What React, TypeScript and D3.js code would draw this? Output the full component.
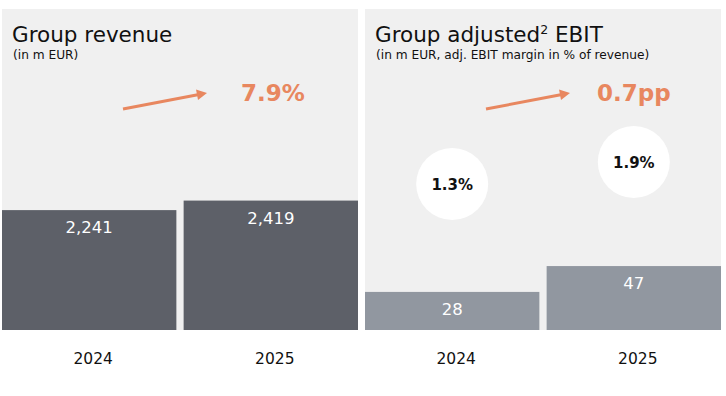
import React, { useRef, useEffect } from "react";
import * as d3 from "d3";

const years = ["2024", "2025"];
const revenue = [2241, 2419];
const ebit = [28, 47];
const ebitMargin = [1.3, 1.9];
const revenueGrowth = "7.9%";
const marginChange = "0.7pp";

const FONT = "'DejaVu Sans', 'Liberation Sans', Arial, sans-serif";
const ORANGE = "#E8875F";

const App = () => {
  const ref = useRef<SVGSVGElement | null>(null);

  useEffect(() => {
    if (!ref.current) return;
    const svg = d3.select(ref.current);
    svg.selectAll("*").remove();

    const top = 9;
    const bottom = 330;

    const panels = [
      {
        x0: 2,
        x1: 358,
        title: "Group revenue",
        sup: "",
        titleRest: "",
        sub: "(in m EUR)",
        values: revenue,
        max: 6000,
        fill: "#5D6068",
        change: revenueGrowth,
        margins: null as number[] | null,
      },
      {
        x0: 365,
        x1: 721,
        title: "Group adjusted",
        sup: "2",
        titleRest: " EBIT",
        sub: "(in m EUR, adj. EBIT margin in % of revenue)",
        values: ebit,
        max: 236,
        fill: "#9197A0",
        change: marginChange,
        margins: ebitMargin,
      },
    ];

    // vertical position of the margin circles
    const my = d3.scaleLinear().domain([1.3, 1.9]).range([184, 162]);

    panels.forEach((p) => {
      const g = svg.append("g");

      g.append("rect")
        .attr("x", p.x0)
        .attr("y", top)
        .attr("width", p.x1 - p.x0)
        .attr("height", bottom - top)
        .attr("fill", "#F0F0F0");

      const x = d3.scaleBand().domain(years).range([p.x0, p.x1]).paddingInner(0.04);
      const y = d3.scaleLinear().domain([0, p.max]).range([bottom, top]);

      // title
      const t = g
        .append("text")
        .attr("x", p.x0 + 10)
        .attr("y", 42)
        .attr("font-family", FONT)
        .attr("font-size", 21.5)
        .attr("fill", "#111");
      t.append("tspan").text(p.title);
      if (p.sup) {
        t.append("tspan").attr("dy", -8).attr("font-size", 12.5).text(p.sup);
        t.append("tspan").attr("dy", 8).text(p.titleRest);
      }
      g.append("text")
        .attr("x", p.x0 + 11)
        .attr("y", 59)
        .attr("font-family", FONT)
        .attr("font-size", 12.2)
        .attr("fill", "#111")
        .text(p.sub);

      // arrow
      const ax0 = p.x0 + 121;
      const ax1 = p.x0 + 205;
      g.append("line")
        .attr("x1", ax0)
        .attr("y1", 109)
        .attr("x2", ax1 - 8)
        .attr("y2", 94.5)
        .attr("stroke", ORANGE)
        .attr("stroke-width", 3);
      g.append("path")
        .attr("d", `M${ax1},93 L${ax1 - 11},89.5 L${ax1 - 9},100 Z`)
        .attr("fill", ORANGE);

      g.append("text")
        .attr("x", p.x0 + (p.margins ? 232 : 239))
        .attr("y", 101)
        .attr("font-family", FONT)
        .attr("font-size", 23)
        .attr("font-weight", "bold")
        .attr("fill", ORANGE)
        .text(p.change);

      // bars
      g.selectAll(".bar")
        .data(p.values)
        .enter()
        .append("rect")
        .attr("x", (_, i) => x(years[i]) || 0)
        .attr("y", (d) => y(d))
        .attr("width", x.bandwidth())
        .attr("height", (d) => bottom - y(d))
        .attr("fill", p.fill);

      g.selectAll(".val")
        .data(p.values)
        .enter()
        .append("text")
        .attr("x", (_, i) => (x(years[i]) || 0) + x.bandwidth() / 2)
        .attr("y", (d) => y(d) + 23)
        .attr("text-anchor", "middle")
        .attr("font-family", FONT)
        .attr("font-size", 16.5)
        .attr("fill", "#fff")
        .text((d) => d3.format(",")(d));

      // year labels
      g.selectAll(".yr")
        .data(years)
        .enter()
        .append("text")
        .attr("x", (d) => (x(d) || 0) + x.bandwidth() / 2 + 4)
        .attr("y", 364)
        .attr("text-anchor", "middle")
        .attr("font-family", FONT)
        .attr("font-size", 15.5)
        .attr("fill", "#111")
        .text((d) => d);

      // margin circles
      if (p.margins) {
        const m = p.margins;
        g.selectAll(".circ")
          .data(m)
          .enter()
          .append("circle")
          .attr("cx", (_, i) => (x(years[i]) || 0) + x.bandwidth() / 2)
          .attr("cy", (d) => my(d))
          .attr("r", 36)
          .attr("fill", "#fff");
        g.selectAll(".ml")
          .data(m)
          .enter()
          .append("text")
          .attr("x", (_, i) => (x(years[i]) || 0) + x.bandwidth() / 2)
          .attr("y", (d) => my(d) + 5.5)
          .attr("text-anchor", "middle")
          .attr("font-family", FONT)
          .attr("font-size", 15)
          .attr("font-weight", "bold")
          .attr("fill", "#111")
          .text((d) => `${d.toFixed(1)}%`);
      }
    });
  }, []);

  return (
    <svg
      ref={ref}
      width={726}
      height={396}
      style={{ position: "absolute", left: 0, top: 0, background: "#fff" }}
    />
  );
};

export default App;
